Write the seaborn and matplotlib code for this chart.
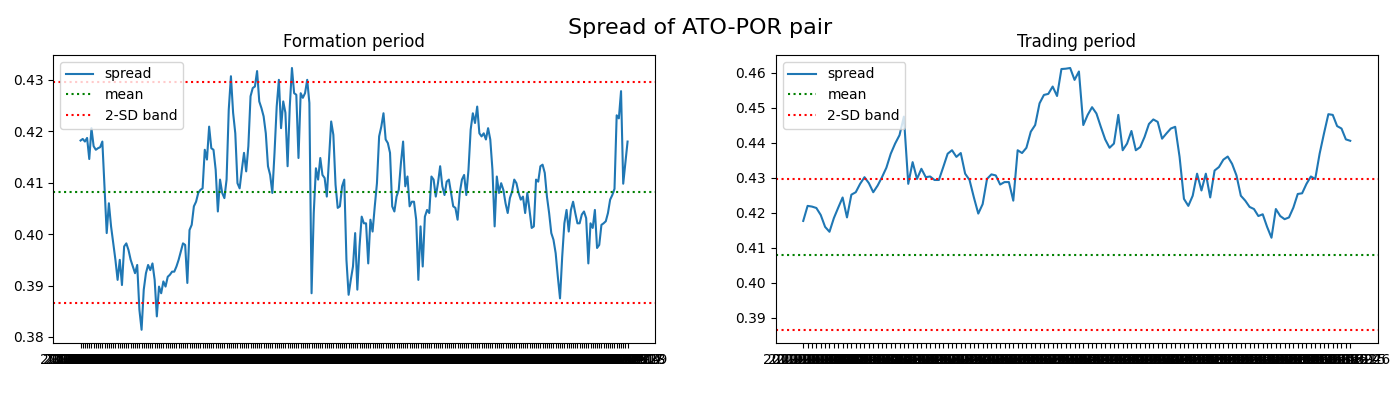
import matplotlib
matplotlib.use("Agg")
import matplotlib.pyplot as plt
import seaborn as sns
import pandas as pd
import numpy as np

# ---- data ----
formation_spread = [
    0.4182, 0.4185, 0.4180, 0.4187, 0.4146, 0.4206, 0.4171, 0.4164, 0.4167, 0.4169,
    0.4180, 0.4093, 0.4002, 0.4060, 0.4015, 0.3982, 0.3950, 0.3911, 0.3950, 0.3901,
    0.3976, 0.3982, 0.3969, 0.3950, 0.3937, 0.3924, 0.3940, 0.3853, 0.3814, 0.3892,
    0.3924, 0.3940, 0.3930, 0.3943, 0.3911, 0.3840, 0.3898, 0.3885, 0.3908, 0.3898,
    0.3917, 0.3921, 0.3927, 0.3927, 0.3937, 0.3950, 0.3966, 0.3982, 0.3979, 0.3905,
    0.4008, 0.4018, 0.4054, 0.4063, 0.4080, 0.4086, 0.4089, 0.4164, 0.4145, 0.4209,
    0.4167, 0.4164, 0.4125,
    0.4044, 0.4106, 0.4080, 0.4070, 0.4106, 0.4242, 0.4307, 0.4236, 0.4196, 0.4099,
    0.4089, 0.4125, 0.4158, 0.4122, 0.4171, 0.4268, 0.4284, 0.4287, 0.4317, 0.4258,
    0.4245, 0.4229, 0.4196, 0.4132, 0.4115, 0.4080, 0.4158, 0.4248, 0.4300, 0.4206,
    0.4258, 0.4236, 0.4132, 0.4248, 0.4323, 0.4274, 0.4271, 0.4148, 0.4274, 0.4265,
    0.4274, 0.4300, 0.4255, 0.3885, 0.4041, 0.4128, 0.4106, 0.4148, 0.4115, 0.4109,
    0.4073, 0.4145, 0.4219, 0.4193, 0.4096, 0.4051, 0.4054, 0.4093, 0.4106, 0.3950,
    0.3882, 0.3911, 0.3937,
    0.4002, 0.3892, 0.3976, 0.4034, 0.4021, 0.4021, 0.3943, 0.4028, 0.4005, 0.4054,
    0.4099, 0.4190, 0.4209, 0.4235, 0.4184, 0.4177, 0.4158, 0.4054, 0.4044, 0.4073,
    0.4086, 0.4138, 0.4180, 0.4093, 0.4112, 0.4054, 0.4063, 0.4063, 0.4028, 0.3911,
    0.4015, 0.3937, 0.4034, 0.4047, 0.4041, 0.4112, 0.4106, 0.4073, 0.4099, 0.4132,
    0.4093, 0.4076, 0.4102, 0.4106, 0.4080, 0.4054, 0.4051, 0.4028, 0.4080, 0.4106,
    0.4115, 0.4076, 0.4125, 0.4203, 0.4235, 0.4216, 0.4248, 0.4196, 0.4190, 0.4196,
    0.4184, 0.4206, 0.4184,
    0.4125, 0.4015, 0.4112, 0.4080, 0.4099, 0.4086, 0.4060, 0.4041, 0.4070, 0.4083,
    0.4106, 0.4099, 0.4080, 0.4067, 0.4073, 0.4041, 0.4080, 0.4047, 0.4012, 0.4015,
    0.4106, 0.4102, 0.4132, 0.4135, 0.4119, 0.4073, 0.4041, 0.4002, 0.3989, 0.3963,
    0.3917, 0.3875, 0.3956, 0.4021, 0.4047, 0.4005, 0.4047, 0.4063, 0.4041, 0.4021,
    0.4021, 0.4038, 0.4044, 0.4031, 0.3943, 0.4021, 0.4012, 0.4047, 0.3973, 0.3979,
    0.4018, 0.4021, 0.4025, 0.4041, 0.4067, 0.4076, 0.4088, 0.4231, 0.4225, 0.4278,
    0.4098, 0.4140, 0.4180,
]

trading_spread = [
    0.4177, 0.4220, 0.4218, 0.4214, 0.4194, 0.4160, 0.4146, 0.4185, 0.4215, 0.4244,
    0.4187, 0.4252, 0.4259, 0.4283, 0.4302, 0.4285, 0.4259, 0.4278, 0.4302, 0.4329,
    0.4369, 0.4398, 0.4422, 0.4475, 0.4283, 0.4345, 0.4297, 0.4326, 0.4302, 0.4304,
    0.4294, 0.4294, 0.4331, 0.4369, 0.4379, 0.4360, 0.4371, 0.4312, 0.4294, 0.4244,
    0.4198, 0.4225, 0.4297, 0.4310, 0.4307, 0.4281, 0.4288, 0.4288, 0.4235, 0.4379,
    0.4371, 0.4386, 0.4432, 0.4451, 0.4513, 0.4537, 0.4540, 0.4561, 0.4534, 0.4611,
    0.4612, 0.4614, 0.4580, 0.4604, 0.4451, 0.4480, 0.4502, 0.4484, 0.4446, 0.4410,
    0.4386, 0.4398, 0.4480, 0.4379, 0.4398, 0.4434, 0.4379, 0.4388, 0.4417, 0.4454,
    0.4467, 0.4460, 0.4412, 0.4427, 0.4441, 0.4446, 0.4360, 0.4240, 0.4220, 0.4249,
    0.4312, 0.4264, 0.4312, 0.4244, 0.4321, 0.4331, 0.4352, 0.4361, 0.4340, 0.4307,
    0.4249, 0.4235, 0.4217, 0.4211, 0.4191, 0.4196, 0.4160, 0.4129, 0.4211, 0.4191,
    0.4182, 0.4187, 0.4215, 0.4254, 0.4256, 0.4283, 0.4304, 0.4297, 0.4369, 0.4427,
    0.4482, 0.4480, 0.4448, 0.4441, 0.4410, 0.4406,
]

spread_mean = 0.4081
band_upper = 0.4296
band_lower = 0.3866

formation_dates = list(pd.bdate_range("2018-01-02", periods=len(formation_spread)).strftime("%Y-%m-%d"))
trading_dates = list(pd.bdate_range("2019-01-02", periods=len(trading_spread)).strftime("%Y-%m-%d"))

panel_titles = ["Formation period", "Trading period"]
suptitle = "Spread of ATO-POR pair"

# ---- figure ----
fig, axes = plt.subplots(1, 2, figsize=(14, 3.95), dpi=100)
fig.subplots_adjust(left=0.038, right=0.984, bottom=0.132, top=0.861, wspace=0.201)

for ax, dates, vals, title in zip(axes,
                                  [formation_dates, trading_dates],
                                  [formation_spread, trading_spread],
                                  panel_titles):
    sns.lineplot(x=dates, y=vals, ax=ax, color="#1f77b4", linewidth=1.5,
                 label="spread", sort=False, estimator=None)
    ax.axhline(spread_mean, color="g", linestyle=":", linewidth=1.5, label="mean")
    ax.axhline(band_upper, color="r", linestyle=":", linewidth=1.5, label="2-SD band")
    ax.axhline(band_lower, color="r", linestyle=":", linewidth=1.5)
    ax.set_title(title, fontsize=12)
    ax.set_xlabel("")
    ax.set_ylabel("")
    ax.legend(loc="upper left", fontsize=10)
    ax.tick_params(axis="x", labelsize=10)

fig.suptitle(suptitle, fontsize=16, y=0.93, va="center")
fig.savefig("out.png", dpi=100, facecolor="white")
